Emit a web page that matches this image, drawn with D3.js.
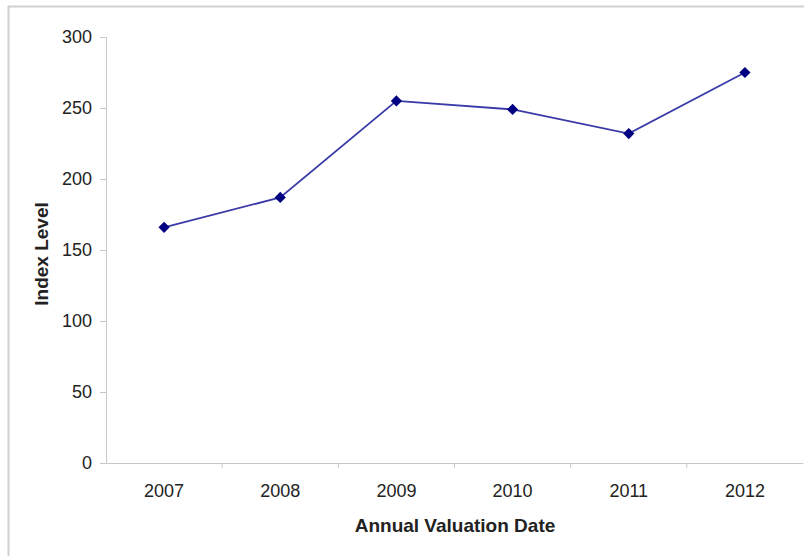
<!DOCTYPE html>
<html lang="en">
<head>
<meta charset="utf-8">
<title>Index Level</title>
<script src="https://unpkg.com/d3@7/dist/d3.min.js"></script>
<style>
  body { margin: 0; background: #fff; }
  text { font-family: "Liberation Sans", Arial, sans-serif; fill: #222; }
</style>
</head>
<body>
<script>
// data
var years = ["2007", "2008", "2009", "2010", "2011", "2012"];
var values = [166, 187, 255, 249, 232, 275];
var yTicks = [0, 50, 100, 150, 200, 250, 300];

var w = 804, h = 556;
var margin = { top: 37, right: 1, bottom: 93, left: 106 };

var svg = d3.select("body").append("svg")
  .attr("width", w)
  .attr("height", h);

// frame of the chart area
svg.append("path")
  .attr("d", "M8.5," + h + "V6.5H" + w)
  .attr("fill", "none")
  .attr("stroke", "#d0d0d0")
  .attr("stroke-width", 2);

var x = d3.scaleBand()
  .domain(years)
  .range([margin.left, w - margin.right]);

var y = d3.scaleLinear()
  .domain([0, 300])
  .range([h - margin.bottom, margin.top]);

// y axis
var yAxis = svg.append("g")
  .attr("transform", "translate(" + margin.left + ",0)")
  .call(d3.axisLeft(y).tickValues(yTicks).tickSize(6).tickPadding(8));
yAxis.select(".domain").attr("stroke", "#c8c8c8");
yAxis.selectAll(".tick line").attr("stroke", "#c8c8c8");
yAxis.selectAll("text").style("font-size", "18px").attr("fill", "#222");

// x axis, ticks sit between categories
var xAxis = svg.append("g")
  .attr("transform", "translate(0," + (h - margin.bottom) + ")")
  .call(d3.axisBottom(x).tickSize(0).tickPadding(21));
xAxis.select(".domain").attr("stroke", "#c8c8c8");
xAxis.selectAll("text").style("font-size", "18px").attr("fill", "#222");
xAxis.selectAll(".edge")
  .data(years.slice(1))
  .enter()
  .append("line")
  .attr("x1", function(d) { return x(d); })
  .attr("x2", function(d) { return x(d); })
  .attr("y1", 0)
  .attr("y2", 5)
  .attr("stroke", "#c8c8c8");

// axis titles
svg.append("text")
  .attr("x", 455)
  .attr("y", 532)
  .attr("text-anchor", "middle")
  .style("font-size", "19px")
  .style("font-weight", "bold")
  .text("Annual Valuation Date");

svg.append("text")
  .attr("transform", "translate(48,254) rotate(-90)")
  .attr("text-anchor", "middle")
  .style("font-size", "19px")
  .style("font-weight", "bold")
  .text("Index Level");

// series line
var line = d3.line()
  .x(function(d, i) { return x(years[i]) + x.bandwidth() / 2; })
  .y(function(d) { return y(d); });

svg.append("path")
  .datum(values)
  .attr("d", line)
  .attr("fill", "none")
  .attr("stroke", "#3a3aa8")
  .attr("stroke-width", 1.8);

// diamond markers
svg.selectAll(".marker")
  .data(values)
  .enter()
  .append("path")
  .attr("class", "marker")
  .attr("d", d3.symbol().type(d3.symbolDiamond2).size(80))
  .attr("transform", function(d, i) {
    return "translate(" + (x(years[i]) + x.bandwidth() / 2) + "," + y(d) + ")";
  })
  .attr("fill", "#000080");
</script>
</body>
</html>
